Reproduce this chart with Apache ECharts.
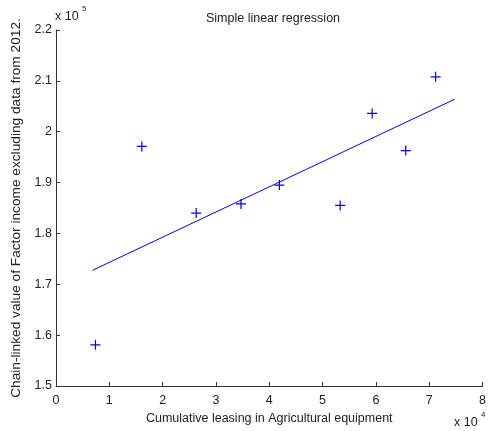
<!DOCTYPE html>
<html><head><meta charset="utf-8">
<script src="https://cdn.jsdelivr.net/npm/echarts@6/dist/echarts.min.js"></script>
<style>html,body{margin:0;padding:0;background:#fff}#c{width:489px;height:431px}</style>
</head><body><div id="c"></div>
<script>
// x in units of 1e4, y in units of 1e5
const leasingX = [0.74, 1.61, 2.63, 3.47, 4.19, 5.33, 5.93, 6.56, 7.12];
const incomeY = [1.581, 1.971, 1.840, 1.858, 1.895, 1.855, 2.036, 1.963, 2.108];
const fitX = [0.685, 7.48];
const fitY = [1.7275, 2.064];
const xTicks = [0, 1, 2, 3, 4, 5, 6, 7, 8];
const yTicks = [1.5, 1.6, 1.7, 1.8, 1.9, 2, 2.1, 2.2];

const font = 'Liberation Sans, Arial, sans-serif';
const txt = '#222';
const chart = echarts.init(document.getElementById('c'));
const plus = 'path://M-0.12,-1H0.12V-0.12H1V0.12H0.12V1H-0.12V0.12H-1V-0.12H-0.12Z';
chart.setOption({
  animation: false,
  grid: {left: 56, right: 5, top: 30, bottom: 45},
  title: {text: 'Simple linear regression', left: 268, top: 7, textAlign: 'center',
    textStyle: {fontFamily: font, fontSize: 12.5, fontWeight: 'normal', color: txt}},
  xAxis: {type: 'value', min: xTicks[0], max: xTicks[xTicks.length-1], interval: 1,
    splitLine: {show: false},
    axisLine: {lineStyle: {color: '#333', width: 1}},
    axisTick: {inside: true, length: 4, lineStyle: {color: '#333'}},
    axisLabel: {fontFamily: font, fontSize: 12.5, color: txt, margin: 8},
    name: 'Cumulative leasing in Agricultural equipment', nameLocation: 'middle', nameGap: 25,
    nameTextStyle: {fontFamily: font, fontSize: 12.5, color: txt}},
  yAxis: {type: 'value', min: yTicks[0], max: yTicks[yTicks.length-1], interval: 0.1,
    splitLine: {show: false},
    axisLine: {show: true, lineStyle: {color: '#333', width: 1}},
    axisTick: {show: true, inside: true, length: 4, lineStyle: {color: '#333'}},
    axisLabel: {fontFamily: font, fontSize: 12.5, color: txt, margin: 4,
      formatter: v => String(Math.round(v*10)/10)},
    name: 'Chain-linked value of Factor income excluding data from 2012.', nameLocation: 'middle', nameGap: 28,
    nameTextStyle: {fontFamily: font, fontSize: 13.7, color: txt}},
  graphic: [
    {type: 'text', left: 55, top: 10, style: {text: 'x 10', fontFamily: font, fontSize: 12.5, fill: txt}},
    {type: 'text', left: 82, top: 5, style: {text: '5', fontFamily: font, fontSize: 8, fill: txt}},
    {type: 'text', left: 454, top: 416, style: {text: 'x 10', fontFamily: font, fontSize: 12.5, fill: txt}},
    {type: 'text', left: 481, top: 411, style: {text: '4', fontFamily: font, fontSize: 8, fill: txt}}
  ],
  series: [
    {type: 'scatter', data: leasingX.map((x, i) => [x, incomeY[i]]),
      symbol: plus, symbolSize: 10, itemStyle: {color: '#0000ff', opacity: 1}},
    {type: 'line', data: fitX.map((x, i) => [x, fitY[i]]), showSymbol: false, symbol: 'none',
      lineStyle: {color: '#0000ff', width: 1}}
  ]
});
</script></body></html>
